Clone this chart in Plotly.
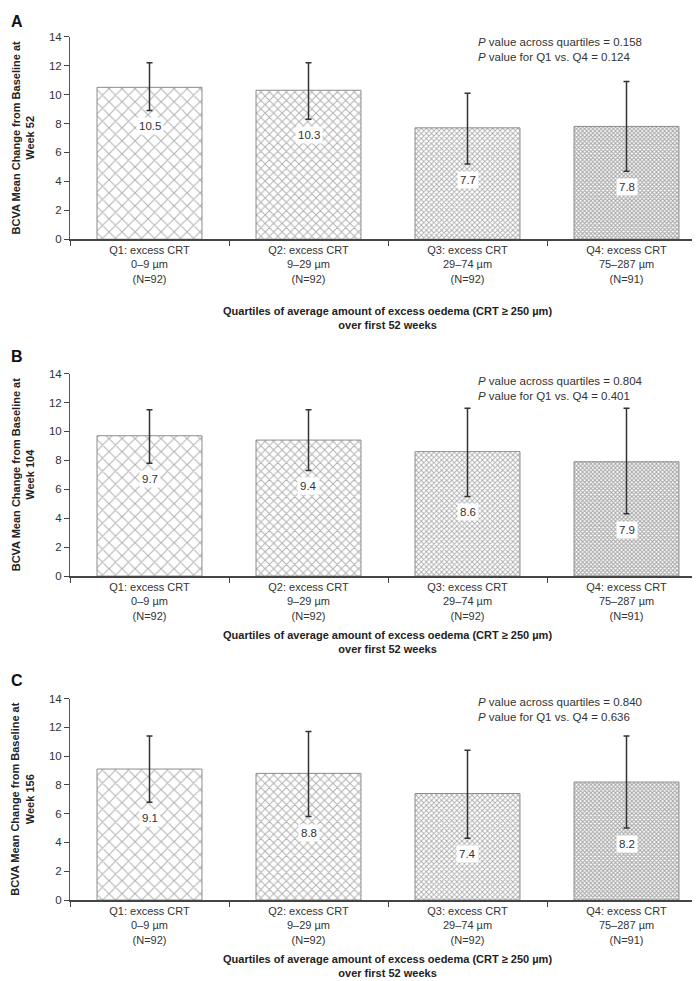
import plotly.graph_objects as go

# ---------------- data ----------------
categories = [
    "Q1: excess CRT<br>0–9 µm<br>(N=92)",
    "Q2: excess CRT<br>9–29 µm<br>(N=92)",
    "Q3: excess CRT<br>29–74 µm<br>(N=92)",
    "Q4: excess CRT<br>75–287 µm<br>(N=91)",
]
panel_letters = ["A", "B", "C"]
week_labels = ["52", "104", "156"]

means_wk52 = [10.5, 10.3, 7.7, 7.8]
upper_wk52 = [12.2, 12.2, 10.1, 10.9]
lower_wk52 = [8.9, 8.3, 5.2, 4.7]

means_wk104 = [9.7, 9.4, 8.6, 7.9]
upper_wk104 = [11.5, 11.5, 11.6, 11.6]
lower_wk104 = [7.8, 7.3, 5.5, 4.3]

means_wk156 = [9.1, 8.8, 7.4, 8.2]
upper_wk156 = [11.4, 11.7, 10.4, 11.4]
lower_wk156 = [6.8, 5.8, 4.3, 5.0]

p_across = ["0.158", "0.804", "0.840"]
p_q1_q4 = ["0.124", "0.401", "0.636"]

y_ticks = [0, 2, 4, 6, 8, 10, 12, 14]

means_all = [means_wk52, means_wk104, means_wk156]
upper_all = [upper_wk52, upper_wk104, upper_wk156]
lower_all = [lower_wk52, lower_wk104, lower_wk156]

# ---------------- layout constants (pixels) ----------------
W, H = 700, 981
plot_left, plot_right = 62, 698
panel_tops = [23, 364, 693]
panel_bottoms = [228, 569, 897]
letter_y = [7.5, 347, 675]
xtitle_y = [308, 636, 964]
ptext_y = [35.5, 379, 704]
ptext_x = 468

FONT = "Arial, Liberation Sans, sans-serif"
pat_sizes = [9.2, 6.0, 3.6, 2.9]
pat_solid = [0.22, 0.3, 0.45, 0.6]
pat_colors = ["#666666", "#626262", "#5a5a5a", "#555555"]


def px_x(x):
    return x / W


def px_y(y):
    return 1 - y / H


fig = go.Figure()
annotations = []

for i in range(3):
    n = "" if i == 0 else str(i + 1)
    m, up, lo = means_all[i], upper_all[i], lower_all[i]
    fig.add_trace(go.Bar(
        x=categories, y=m,
        xaxis="x" + n, yaxis="y" + n,
        width=0.66,
        marker=dict(
            color="white",
            line=dict(color="#8c8c8c", width=1),
            pattern=dict(shape="x", size=pat_sizes, solidity=pat_solid,
                         fgcolor=pat_colors, bgcolor="white", fillmode="overlay"),
        ),
        error_y=dict(type="data", symmetric=False,
                     array=[u - v for u, v in zip(up, m)],
                     arrayminus=[v - l for v, l in zip(m, lo)],
                     color="#333333", thickness=1.5, width=3),
        hoverinfo="skip",
    ))
    dom_y = [px_y(panel_bottoms[i]), px_y(panel_tops[i])]
    fig.layout["xaxis" + n] = dict(
        domain=[px_x(plot_left), px_x(plot_right)], anchor="y" + n,
        type="category", range=[-0.5, 3.5], tickson="boundaries",
        ticks="outside", ticklen=5, tickcolor="#444", tickwidth=1,
        showline=True, linecolor="#444", linewidth=1.5, showgrid=False,
        tickfont=dict(family=FONT, size=11, color="#333"),
    )
    fig.layout["yaxis" + n] = dict(
        domain=dom_y, anchor="x" + n, range=[0, 14],
        tickvals=y_ticks, ticktext=[str(t) for t in y_ticks],
        ticks="outside", ticklen=5, tickcolor="#444", tickwidth=1,
        showline=True, linecolor="#555", linewidth=1, showgrid=False,
        zeroline=False,
        tickfont=dict(family=FONT, size=11.5, color="#333"),
    )

    # value labels
    for c, v, l in zip(categories, m, lo):
        annotations.append(dict(
            x=c, y=l, xref="x" + n, yref="y" + n, text=f"{v:.1f}",
            showarrow=False, yanchor="middle", yshift=-16,
            bgcolor="white", borderpad=2,
            font=dict(family=FONT, size=11.5, color="#333"),
        ))
    # panel letter
    annotations.append(dict(
        x=px_x(0.5), y=px_y(letter_y[i]), xref="paper", yref="paper",
        text=f"<b>{panel_letters[i]}</b>", showarrow=False,
        xanchor="left", yanchor="middle",
        font=dict(family=FONT, size=16, color="#111"),
    ))
    # x title
    annotations.append(dict(
        x=px_x((plot_left + plot_right) / 2), y=px_y(xtitle_y[i]),
        xref="paper", yref="paper",
        text="<b>Quartiles of average amount of excess oedema (CRT ≥ 250 µm)<br>over first 52 weeks</b>",
        showarrow=False, xanchor="center", yanchor="middle", borderpad=0,
        font=dict(family=FONT, size=11, color="#222"),
    ))
    # y title
    annotations.append(dict(
        x=px_x(14.5), y=px_y((panel_tops[i] + panel_bottoms[i]) / 2),
        xref="paper", yref="paper", textangle=-90,
        text=f"<b>BCVA Mean Change from Baseline at<br>Week {week_labels[i]}</b>",
        showarrow=False, xanchor="center", yanchor="middle",
        font=dict(family=FONT, size=11, color="#222"),
    ))
    # p values
    annotations.append(dict(
        x=px_x(ptext_x), y=px_y(ptext_y[i]), xref="paper", yref="paper",
        text=f"<i>P</i> value across quartiles = {p_across[i]}<br><i>P</i> value for Q1 vs. Q4 = {p_q1_q4[i]}",
        showarrow=False, xanchor="left", yanchor="middle", align="left",
        font=dict(family=FONT, size=11.5, color="#333"),
    ))

fig.update_layout(
    width=W, height=H,
    margin=dict(l=0, r=0, t=0, b=0),
    paper_bgcolor="white", plot_bgcolor="white",
    showlegend=False, bargap=0.34,
    annotations=annotations,
)

fig.write_html("out.html")
